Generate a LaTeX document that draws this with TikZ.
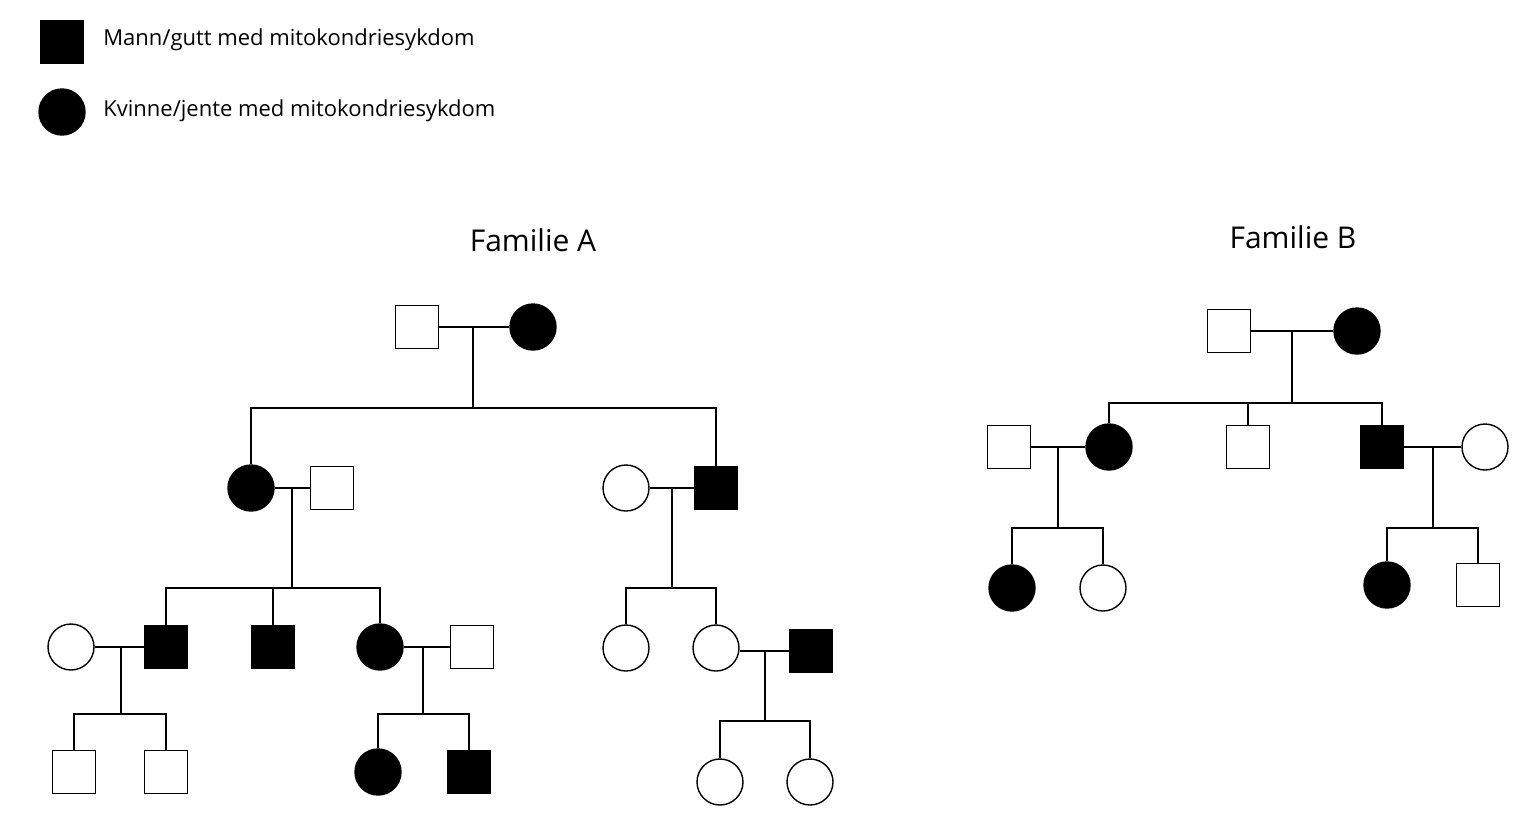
\documentclass[tikz,border=0pt]{standalone}
\usepackage{fontspec}
\setmainfont{Open Sans}
\begin{document}
\begin{tikzpicture}[x=0.5pt,y=-0.5pt,line width=0.7pt,
 m/.style={draw,rectangle,minimum size=21.5pt,inner sep=0},
 f/.style={draw,circle,minimum size=23pt,inner sep=0},
 a/.style={fill=black},
 lbl/.style={anchor=west,font=\fontsize{11}{13}\selectfont},
 ttl/.style={font=\fontsize{15}{18}\selectfont}]
\useasboundingbox (0,0) rectangle (1539,837);
% legend
\node[m,a] (lm) at (62,42) {};
\node[f,a] (lf) at (62,112) {};
\node[lbl] (tm) at (96,40) {Mann/gutt med mitokondriesykdom};
\node[lbl] (tf) at (96,111) {Kvinne/jente med mitokondriesykdom};
\node[ttl] (ta) at (533,240) {Familie A};
\node[ttl] (tb) at (1293,237) {Familie B};
% Family A
\node[m] (a1) at (417,327) {};
\node[f,a] (a2) at (533,327) {};
\draw (a1) -- (a2);
\coordinate (j1) at (473,327);
\coordinate (h1) at (473,408);
\node[f,a] (b1) at (251,488) {};
\node[m] (b2) at (332,488) {};
\node[f] (b3) at (626,488) {};
\node[m,a] (b4) at (716,488) {};
\draw (j1) -- (h1);
\draw (b1) |- (h1) -| (b4);
\draw (b1) -- (b2); \draw (b3) -- (b4);
\coordinate (j2) at (292,488); \coordinate (h2) at (292,588);
\coordinate (j3) at (672,488); \coordinate (h3) at (672,588);
\draw (j2) -- (h2); \draw (j3) -- (h3);
\node[f] (c1) at (71,647) {};
\node[m,a] (c2) at (166,647) {};
\node[m,a] (c3) at (273,647) {};
\node[f,a] (c4) at (380,647) {};
\node[m] (c5) at (472,647) {};
\node[f] (c6) at (626,648) {};
\node[f] (c7) at (716,648) {};
\node[m,a] (c8) at (811,651) {};
\draw (c2) |- (h2) -| (c4); \draw (h2 -| c3) -- (c3);
\draw (c6) |- (h3) -| (c7);
\draw (c1) -- (c2); \draw (c4) -- (c5);
\draw (c7.east |- c8) -- (c8);
\coordinate (j4) at (121,647); \coordinate (h4) at (121,714);
\coordinate (j5) at (423,647); \coordinate (h5) at (423,714);
\coordinate (j6) at (765,651); \coordinate (h6) at (765,721);
\draw (j4) -- (h4); \draw (j5) -- (h5); \draw (j6) -- (h6);
\node[m] (d1) at (74,772) {};
\node[m] (d2) at (166,772) {};
\node[f,a] (d3) at (378,772) {};
\node[m,a] (d4) at (469,772) {};
\node[f] (d5) at (720,782) {};
\node[f] (d6) at (810,782) {};
\draw (d1) |- (h4) -| (d2);
\draw (d3) |- (h5) -| (d4);
\draw (d5) |- (h6) -| (d6);
% Family B
\node[m] (e1) at (1229,331) {};
\node[f,a] (e2) at (1357,331) {};
\draw (e1) -- (e2);
\coordinate (k1) at (1292,331); \coordinate (g1) at (1292,403);
\draw (k1) -- (g1);
\node[m] (p1) at (1009,447) {};
\node[f,a] (p2) at (1109,447) {};
\node[m] (p3) at (1248,447) {};
\node[m,a] (p4) at (1382,447) {};
\node[f] (p5) at (1485,447) {};
\draw (p2) |- (g1) -| (p4); \draw (g1 -| p3) -- (p3);
\draw (p1) -- (p2); \draw (p4) -- (p5);
\coordinate (k2) at (1058,447); \coordinate (g2) at (1058,528);
\coordinate (k3) at (1433,447); \coordinate (g3) at (1433,528);
\draw (k2) -- (g2); \draw (k3) -- (g3);
\node[f,a] (q1) at (1012,588) {};
\node[f] (q2) at (1103,588) {};
\node[f,a] (q3) at (1387,585) {};
\node[m] (q4) at (1478,585) {};
\draw (q1) |- (g2) -| (q2);
\draw (q3) |- (g3) -| (q4);
\end{tikzpicture}
\end{document}
